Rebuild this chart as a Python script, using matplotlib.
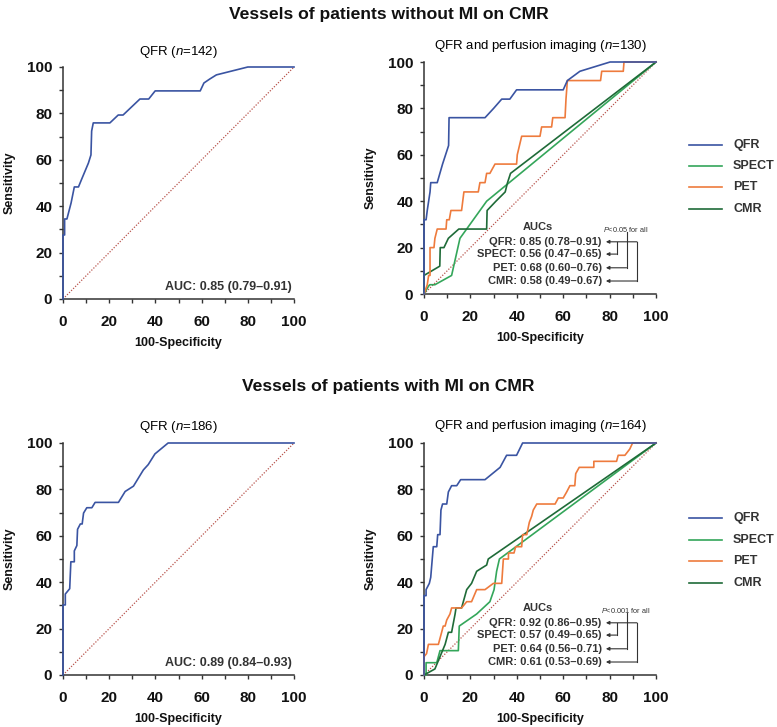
import matplotlib
matplotlib.use("Agg")
import matplotlib.pyplot as plt
from matplotlib.lines import Line2D

plt.rcParams['font.family'] = ['Liberation Sans', 'DejaVu Sans']
plt.rcParams['mathtext.fontset'] = 'custom'
plt.rcParams['mathtext.it'] = 'Liberation Sans:italic'
plt.rcParams['mathtext.rm'] = 'Liberation Sans'
plt.rcParams['mathtext.bf'] = 'Liberation Sans:bold'

# ---------------- data ----------------
main_titles = ["Vessels of patients without MI on CMR", "Vessels of patients with MI on CMR"]
left_titles = [r"QFR ($\it{n}$=142)", r"QFR ($\it{n}$=186)"]
right_titles = [r"QFR and perfusion imaging ($\it{n}$=130)", r"QFR and perfusion imaging ($\it{n}$=164)"]
left_auc = ["AUC: 0.85 (0.79\u20130.91)", "AUC: 0.89 (0.84\u20130.93)"]
series_names = ["QFR", "SPECT", "PET", "CMR"]
auc_labels = [
    ["QFR: 0.85 (0.78\u20130.91)", "SPECT: 0.56 (0.47\u20130.65)", "PET: 0.68 (0.60\u20130.76)", "CMR: 0.58 (0.49\u20130.67)"],
    ["QFR: 0.92 (0.86\u20130.95)", "SPECT: 0.57 (0.49\u20130.65)", "PET: 0.64 (0.56\u20130.71)", "CMR: 0.61 (0.53\u20130.69)"],
]
p_labels = [r"$\it{P}$<0.05 for all", r"$\it{P}$<0.001 for all"]
tick_values = [0, 20, 40, 60, 80, 100]

# top-left: QFR, no MI
tl_qfr_x = [0, 0, 0.7, 0.7, 1.7, 3.5, 4.9, 6.7, 8.1, 11.0, 12.1, 12.4, 13.1, 20.3, 23.9, 26.0, 33.3, 37.1, 39.9, 59.4, 61.0, 63.5, 66.4, 80.0, 100]
tl_qfr_y = [0, 27.6, 27.6, 34.5, 34.5, 41.4, 48.3, 48.3, 51.7, 58.6, 62.1, 72.4, 75.9, 75.9, 79.3, 79.3, 86.2, 86.2, 89.7, 89.7, 93.1, 94.8, 96.6, 100, 100]

# top-right
tr_qfr_x = [0, 0, 0.9, 1.4, 2.6, 2.9, 5.7, 8.0, 10.6, 10.8, 26.3, 30.0, 33.5, 37.0, 39.9, 60.0, 61.8, 67.2, 80.2, 100]
tr_qfr_y = [0, 32, 32, 36, 44, 48, 48, 56, 64, 76, 76, 80, 84, 84, 88, 88, 92, 96, 100, 100]
tr_spect_x = [0, 1.9, 2.5, 4.7, 11.9, 15.5, 27.0, 100]
tr_spect_y = [0, 3.3, 4, 4, 8, 24, 40, 100]
tr_pet_x = [0, 1.4, 2.0, 2.6, 2.6, 4.3, 4.7, 5.7, 9.5, 9.8, 10.9, 11.6, 16.2, 17.2, 23.4, 24.1, 26.3, 27.0, 28.4, 30.6, 39.9, 40.2, 42.1, 50.0, 50.7, 55.0, 55.5, 60.8, 61.2, 61.8, 76.1, 76.6, 85.9, 86.2, 100]
tr_pet_y = [0, 4, 8, 8, 20, 20, 24, 28, 28, 32, 32, 36, 36, 44, 44, 48, 48, 52, 52, 56, 56, 60, 68, 68, 72, 72, 76, 76, 84, 92, 92, 96, 96, 100, 100]
tr_cmr_x = [0, 0, 6.8, 7.0, 8.6, 10.5, 15.0, 27.0, 27.2, 31.0, 35.0, 36.0, 37.3, 100]
tr_cmr_y = [0, 8, 12, 20, 20, 24, 28, 28, 36, 40, 44, 48, 52, 100]

# bottom-left: QFR, MI
bl_qfr_x = [0, 0, 1.0, 1.0, 2.9, 3.4, 4.9, 4.9, 6.0, 6.3, 7.5, 8.3, 8.9, 10.3, 12.5, 13.9, 24.0, 26.9, 30.5, 34.8, 36.9, 39.8, 45.5, 100]
bl_qfr_y = [0, 30.2, 30.2, 34.9, 37.2, 48.8, 48.8, 53.5, 55.8, 62.8, 65.1, 65.1, 69.8, 72.1, 72.1, 74.4, 74.4, 79.1, 81.4, 88.4, 90.7, 95.3, 100, 100]

# bottom-right
br_qfr_x = [0, 0, 0.9, 0.9, 2.3, 2.9, 4.0, 5.5, 5.9, 6.9, 7.3, 8.0, 9.8, 10.5, 11.9, 14.1, 15.8, 26.3, 32.8, 35.6, 39.9, 42.5, 100]
br_qfr_y = [0, 34.2, 34.2, 36.8, 39.5, 42.1, 55.3, 55.3, 60.5, 60.5, 71.1, 73.7, 73.7, 78.9, 81.6, 81.6, 84.2, 84.2, 89.5, 94.7, 94.7, 100, 100]
br_spect_x = [0, 0.9, 0.9, 5.5, 6.9, 14.8, 15.2, 22.7, 28.4, 30.2, 31.3, 32.5, 100]
br_spect_y = [0, 0, 5.3, 5.3, 10.5, 10.5, 21.1, 26.3, 31.6, 36.8, 44.7, 50.0, 100]
br_pet_x = [0, 0, 1.1, 1.9, 6.2, 7.6, 8.3, 9.1, 9.8, 11.2, 11.9, 16.2, 18.4, 20.5, 22.7, 26.3, 29.9, 33.5, 34.2, 36.4, 36.4, 38.8, 39.5, 42.1, 42.5, 44.3, 45.4, 46.4, 47.1, 48.6, 56.5, 57.9, 60.0, 61.5, 62.9, 65.0, 65.4, 66.9, 73.2, 73.2, 83.0, 83.7, 86.6, 88.7, 89.9, 100]
br_pet_y = [0, 7.9, 9.2, 13.2, 13.2, 18.4, 21.1, 21.1, 23.7, 26.3, 28.9, 28.9, 31.6, 31.6, 36.8, 36.8, 39.5, 39.5, 50.0, 50.0, 52.6, 52.6, 55.3, 55.3, 60.5, 60.5, 65.8, 68.4, 71.1, 73.7, 73.7, 76.3, 76.3, 78.9, 81.6, 81.6, 86.8, 89.5, 89.5, 92.1, 92.1, 94.7, 94.7, 97.4, 100, 100]
br_cmr_x = [0, 4.7, 6.9, 9.1, 10.5, 11.9, 13.4, 13.8, 16.2, 18.4, 20.5, 22.7, 24.9, 27.0, 27.7, 100]
br_cmr_y = [0, 2.6, 7.9, 13.2, 18.4, 18.4, 26.3, 28.9, 28.9, 36.8, 39.5, 44.7, 46.1, 47.4, 50.0, 100]

colors = {"QFR": "#3A54A2", "SPECT": "#34A65A", "PET": "#EE7B3D", "CMR": "#1F6B38"}
diag_color = "#B8544C"
ink = "#111111"

W, H = 777, 727
fig = plt.figure(figsize=(W / 100, H / 100), dpi=100)


def axbox(l, t, w, h):
    return [l / W, 1 - (t + h) / H, w / W, h / H]


def style_axes(ax):
    ax.set_xlim(0, 100)
    ax.set_ylim(0, 100)
    for s in ["top", "right"]:
        ax.spines[s].set_visible(False)
    for s in ["left", "bottom"]:
        ax.spines[s].set_color("#333333")
        ax.spines[s].set_linewidth(1.1)
    ax.set_xticks(tick_values)
    ax.set_yticks(tick_values)
    ax.set_xticks([10, 30, 50, 70, 90], minor=True)
    ax.set_yticks([10, 30, 50, 70, 90], minor=True)
    ax.tick_params(which="both", direction="out", length=3.2, width=1, color="#333333")
    ax.tick_params(axis="x", which="major", pad=8.5)
    ax.tick_params(axis="y", which="major", pad=4.5)
    for lab in ax.get_xticklabels() + ax.get_yticklabels():
        lab.set_fontweight("bold")
        lab.set_fontsize(11)
        lab.set_color(ink)
    ax.set_xlabel("100-Specificity", fontsize=9, fontweight="bold", color=ink)
    ax.set_ylabel("Sensitivity", fontsize=9, fontweight="bold", color=ink)
    ax.xaxis.set_label_coords(0.5, -0.165)
    ax.yaxis.set_label_coords(-0.205, 0.5)
    ax.plot([0, 100], [0, 100], linestyle=(0, (1, 1.3)), color=diag_color, lw=0.9, zorder=2)


def curve(ax, x, y, name):
    ax.plot(x, y, color=colors[name], lw=1.2, clip_on=False, zorder=4)


left_boxes = [(63, 67), (63, 443)]
right_boxes = [(424, 62), (424, 443)]

left_data = [(tl_qfr_x, tl_qfr_y), (bl_qfr_x, bl_qfr_y)]
right_data = [
    [(tr_qfr_x, tr_qfr_y), (tr_spect_x, tr_spect_y), (tr_pet_x, tr_pet_y), (tr_cmr_x, tr_cmr_y)],
    [(br_qfr_x, br_qfr_y), (br_spect_x, br_spect_y), (br_pet_x, br_pet_y), (br_cmr_x, br_cmr_y)],
]

for r in range(2):
    # left panel
    l, t = left_boxes[r]
    ax = fig.add_axes(axbox(l, t, 231, 232))
    style_axes(ax)
    curve(ax, left_data[r][0], left_data[r][1], "QFR")
    ax.text(0.5, 1 + 15.5 / 232, left_titles[r], transform=ax.transAxes, ha="center", va="center",
            fontsize=9.5, color="#000000")
    ax.text(99, 5.2, left_auc[r], ha="right", va="center", fontsize=9, fontweight="bold", color="#333333")

    # right panel
    l, t = right_boxes[r]
    ax = fig.add_axes(axbox(l, t, 232, 232))
    style_axes(ax)
    for name, (xs, ys) in zip(["SPECT", "CMR", "PET", "QFR"], [right_data[r][1], right_data[r][3], right_data[r][2], right_data[r][0]]):
        curve(ax, xs, ys, name)
    ax.text(0.5, 1 + 16.5 / 232, right_titles[r], transform=ax.transAxes, ha="center", va="center",
            fontsize=9.5, color="#000000")
    # AUC annotation block
    ax.text(49, 28.9, "AUCs", ha="center", va="center", fontsize=8, fontweight="bold", color="#333333")
    ys_lab = [22.5, 17.2, 11.3, 5.6]
    for lab, yy in zip(auc_labels[r], ys_lab):
        ax.text(76.6, yy, lab, ha="right", va="center", fontsize=8, fontweight="bold", color="#333333")
    ends = [91.8, 83.0, 87.3, 91.8]
    for yy, xe in zip(ys_lab, ends):
        ax.annotate("", xy=(78.4, yy), xytext=(xe, yy), annotation_clip=False,
                    arrowprops=dict(arrowstyle="-|>", color="#333333", lw=0.8, mutation_scale=5,
                                    shrinkA=0, shrinkB=0))
    ax.plot([83.0, 83.0], [ys_lab[1], ys_lab[0]], color="#333333", lw=0.8, clip_on=False)
    ax.plot([91.8, 91.8], [ys_lab[3], ys_lab[0]], color="#333333", lw=0.8, clip_on=False)
    ax.plot([87.3, 87.3], [ys_lab[2], 26.6], color="#333333", lw=0.8, clip_on=False)
    ax.text(86.8, 27.9, p_labels[r], ha="center", va="center", fontsize=5.3, color="#333333")

# main titles
fig.text(0.5, 1 - 14 / H, main_titles[0], ha="center", va="center", fontsize=12.6, fontweight="bold", color=ink)
fig.text(0.5, 1 - 386 / H, main_titles[1], ha="center", va="center", fontsize=12.6, fontweight="bold", color=ink)

# legends
leg_rows = [[145, 166, 187, 209], [518, 540, 561, 583]]
for rows in leg_rows:
    for name, yy in zip(series_names, rows):
        fig.add_artist(Line2D([689 / W, 722 / W], [1 - yy / H, 1 - yy / H], color=colors[name], lw=1.2,
                              transform=fig.transFigure))
        fig.text(733 / W, 1 - yy / H, name, ha="left", va="center", fontsize=9, fontweight="bold", color="#333333")

fig.savefig("out.png", dpi=100)
